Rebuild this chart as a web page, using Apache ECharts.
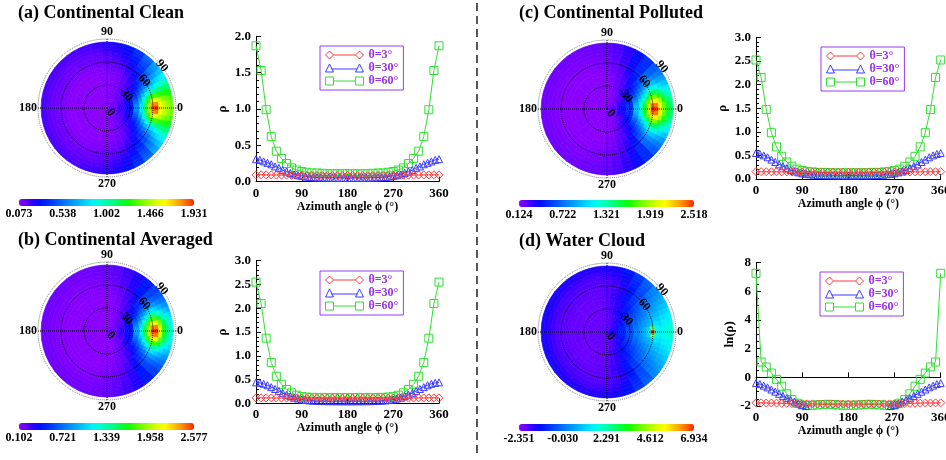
<!DOCTYPE html>
<html>
<head>
<meta charset="utf-8">
<script src="https://cdn.jsdelivr.net/npm/echarts@6/dist/echarts.min.js"></script>
<style>
html, body {margin: 0; padding: 0; background: #fff;}
#main {width: 946px; height: 460px;}
</style>
</head>
<body>
<div id="main"></div>
<script>
// azimuth samples of the three curves
var phi10 = [0,10,20,30,40,50,60,70,80,90,100,110,120,130,140,150,160,170,180,190,200,210,220,230,240,250,260,270,280,290,300,310,320,330,340,350,360];
var phi75 = [0,7.5,15,22.5,30,37.5,45,52.5,60,67.5,75,82.5,90,97.5,105,112.5,120,127.5,135,142.5,150,157.5,165,172.5,180,187.5,195,202.5,210,217.5,225,232.5,240,247.5,255,262.5,270,277.5,285,292.5,300,307.5,315,322.5,330,337.5,345,352.5,360];
var seriesNames = ['θ=3°', 'θ=30°', 'θ=60°'];

// (a) continental clean
var cleanT3 = [0.095,0.095,0.094,0.093,0.092,0.091,0.090,0.089,0.088,0.087,0.086,0.086,0.085,0.085,0.084,0.084,0.084,0.084,0.084,0.084,0.084,0.084,0.084,0.085,0.085,0.086,0.086,0.087,0.088,0.089,0.090,0.091,0.092,0.093,0.094,0.095,0.095];
var cleanT30 = [0.31,0.30,0.28,0.26,0.24,0.21,0.19,0.16,0.14,0.12,0.10,0.09,0.08,0.07,0.065,0.06,0.058,0.056,0.055,0.054,0.053,0.052,0.052,0.051,0.051,0.051,0.052,0.052,0.053,0.054,0.055,0.056,0.058,0.06,0.065,0.07,0.08,0.09,0.10,0.12,0.14,0.16,0.19,0.21,0.24,0.26,0.28,0.30,0.31];
var cleanT60 = [1.87,1.53,0.99,0.62,0.42,0.32,0.25,0.19,0.16,0.14,0.13,0.12,0.12,0.115,0.11,0.11,0.11,0.11,0.11,0.11,0.11,0.11,0.11,0.115,0.12,0.12,0.13,0.14,0.16,0.19,0.25,0.32,0.42,0.62,0.99,1.53,1.87];
// (b) continental averaged
var avgT3 = [0.115,0.115,0.114,0.113,0.112,0.111,0.110,0.109,0.108,0.107,0.106,0.106,0.105,0.105,0.105,0.105,0.105,0.105,0.105,0.105,0.105,0.105,0.105,0.105,0.105,0.106,0.106,0.107,0.108,0.109,0.110,0.111,0.112,0.113,0.114,0.115,0.115];
var avgT30 = [0.44,0.43,0.41,0.38,0.34,0.30,0.26,0.22,0.18,0.15,0.12,0.10,0.08,0.07,0.06,0.055,0.05,0.048,0.046,0.045,0.044,0.043,0.043,0.042,0.042,0.042,0.043,0.043,0.044,0.045,0.046,0.048,0.05,0.055,0.06,0.07,0.08,0.10,0.12,0.15,0.18,0.22,0.26,0.30,0.34,0.38,0.41,0.43,0.44];
var avgT60 = [2.55,2.10,1.37,0.86,0.57,0.40,0.29,0.22,0.17,0.145,0.13,0.125,0.12,0.12,0.12,0.12,0.12,0.12,0.12,0.12,0.12,0.12,0.12,0.12,0.12,0.125,0.13,0.145,0.17,0.22,0.29,0.40,0.57,0.86,1.37,2.10,2.55];
// (c) continental polluted
var pollT3 = [0.155,0.155,0.154,0.153,0.152,0.151,0.150,0.149,0.148,0.147,0.146,0.146,0.145,0.145,0.145,0.145,0.145,0.145,0.145,0.145,0.145,0.145,0.145,0.145,0.145,0.146,0.146,0.147,0.148,0.149,0.150,0.151,0.152,0.153,0.154,0.155,0.155];
var pollT30 = [0.55,0.53,0.50,0.46,0.41,0.36,0.31,0.27,0.23,0.19,0.16,0.14,0.12,0.11,0.10,0.09,0.085,0.082,0.08,0.078,0.077,0.076,0.075,0.075,0.075,0.075,0.075,0.076,0.077,0.078,0.08,0.082,0.085,0.09,0.10,0.11,0.12,0.14,0.16,0.19,0.23,0.27,0.31,0.36,0.41,0.46,0.50,0.53,0.55];
var pollT60 = [2.52,2.15,1.47,0.98,0.68,0.48,0.36,0.27,0.21,0.18,0.16,0.15,0.14,0.14,0.135,0.13,0.13,0.13,0.13,0.13,0.13,0.13,0.135,0.14,0.14,0.15,0.16,0.18,0.21,0.27,0.36,0.48,0.68,0.98,1.47,2.15,2.52];
// (d) water cloud, ln(rho)
var waterT3 = [-1.78,-1.78,-1.79,-1.79,-1.80,-1.81,-1.82,-1.83,-1.84,-1.84,-1.85,-1.85,-1.86,-1.86,-1.86,-1.86,-1.86,-1.86,-1.86,-1.86,-1.86,-1.86,-1.86,-1.86,-1.86,-1.85,-1.85,-1.84,-1.84,-1.83,-1.82,-1.81,-1.80,-1.79,-1.79,-1.78,-1.78];
var waterT30 = [-0.40,-0.47,-0.58,-0.70,-0.85,-1.00,-1.15,-1.30,-1.45,-1.58,-1.70,-1.82,-1.92,-2.00,-2.05,-2.07,-2.08,-2.08,-2.08,-2.08,-2.08,-2.08,-2.08,-2.08,-2.08,-2.08,-2.08,-2.08,-2.08,-2.08,-2.08,-2.08,-2.08,-2.07,-2.05,-2.00,-1.92,-1.82,-1.70,-1.58,-1.45,-1.30,-1.15,-1.00,-0.85,-0.70,-0.58,-0.47,-0.40];
var waterT60 = [7.26,1.07,0.72,0.30,-0.14,-0.62,-1.15,-1.55,-1.80,-1.93,-1.97,-1.95,-1.92,-1.90,-1.88,-1.90,-1.93,-1.95,-1.95,-1.95,-1.93,-1.90,-1.88,-1.90,-1.92,-1.95,-1.97,-1.93,-1.80,-1.55,-1.15,-0.62,-0.14,0.30,0.72,1.07,7.26];

// polar maps: zenith rings (edges) x azimuth columns 0..180; the maps are mirror symmetric about the 0-180 line
var ringEdges = [0,5,15,25,35,42.5,47.5,52.5,57.5,62.5,67.5,72.5,77.5,82.5,86];
var discPhi = [0,5,10,15,20,25,30,35,40,50,60,70,80,90,100,110,120,135,150,165,180];
var cleanDisc = [
  [0.09,0.09,0.09,0.09,0.09,0.09,0.09,0.09,0.09,0.09,0.09,0.09,0.085,0.085,0.085,0.085,0.085,0.08,0.08,0.08,0.08],
  [0.13,0.13,0.13,0.13,0.12,0.12,0.12,0.12,0.11,0.10,0.10,0.09,0.09,0.08,0.08,0.08,0.08,0.075,0.075,0.075,0.075],
  [0.21,0.21,0.20,0.20,0.19,0.18,0.17,0.16,0.15,0.13,0.11,0.10,0.09,0.08,0.075,0.075,0.075,0.075,0.075,0.075,0.075],
  [0.31,0.31,0.29,0.28,0.26,0.25,0.23,0.21,0.19,0.16,0.13,0.10,0.08,0.07,0.065,0.06,0.06,0.06,0.06,0.06,0.06],
  [0.62,0.6,0.55,0.49,0.42,0.37,0.32,0.28,0.24,0.18,0.14,0.11,0.09,0.08,0.075,0.07,0.07,0.07,0.07,0.07,0.07],
  [0.85,0.82,0.75,0.66,0.56,0.47,0.39,0.33,0.28,0.21,0.16,0.12,0.10,0.09,0.08,0.075,0.075,0.075,0.075,0.075,0.075],
  [1.15,1.1,1.0,0.86,0.72,0.59,0.48,0.40,0.33,0.24,0.18,0.14,0.12,0.10,0.09,0.085,0.08,0.08,0.08,0.08,0.08],
  [1.5,1.43,1.28,1.08,0.88,0.71,0.56,0.46,0.38,0.28,0.21,0.16,0.13,0.12,0.10,0.095,0.09,0.09,0.09,0.09,0.09],
  [1.87,1.77,1.53,1.26,0.99,0.79,0.62,0.51,0.42,0.32,0.25,0.19,0.16,0.14,0.13,0.12,0.12,0.11,0.11,0.11,0.11],
  [1.93,1.82,1.58,1.3,1.03,0.82,0.66,0.54,0.45,0.35,0.27,0.21,0.17,0.15,0.14,0.13,0.13,0.12,0.12,0.12,0.12],
  [1.65,1.6,1.47,1.28,1.08,0.9,0.75,0.63,0.53,0.4,0.31,0.24,0.2,0.17,0.15,0.14,0.14,0.13,0.13,0.13,0.13],
  [1.52,1.49,1.4,1.25,1.09,0.94,0.8,0.68,0.58,0.44,0.34,0.27,0.22,0.19,0.17,0.16,0.15,0.15,0.15,0.15,0.15],
  [1.44,1.42,1.35,1.23,1.1,0.97,0.84,0.73,0.63,0.48,0.37,0.29,0.24,0.21,0.19,0.18,0.17,0.17,0.17,0.17,0.17],
  [1.38,1.36,1.3,1.2,1.08,0.97,0.86,0.76,0.67,0.52,0.4,0.31,0.26,0.23,0.21,0.19,0.18,0.18,0.18,0.18,0.18]
];
var avgDisc = [
  [0.12,0.12,0.12,0.12,0.12,0.12,0.12,0.12,0.115,0.115,0.11,0.11,0.11,0.11,0.105,0.105,0.105,0.105,0.105,0.105,0.105],
  [0.17,0.17,0.17,0.16,0.16,0.16,0.15,0.15,0.14,0.13,0.12,0.11,0.10,0.10,0.095,0.09,0.09,0.09,0.09,0.09,0.09],
  [0.29,0.29,0.28,0.27,0.26,0.25,0.23,0.22,0.20,0.17,0.14,0.12,0.10,0.09,0.085,0.08,0.08,0.08,0.08,0.08,0.08],
  [0.44,0.44,0.42,0.41,0.39,0.37,0.34,0.31,0.28,0.22,0.18,0.14,0.105,0.08,0.065,0.056,0.05,0.046,0.044,0.042,0.042],
  [0.9,0.87,0.8,0.71,0.62,0.54,0.46,0.39,0.34,0.26,0.2,0.15,0.12,0.1,0.085,0.08,0.075,0.075,0.075,0.075,0.075],
  [1.2,1.16,1.05,0.91,0.77,0.65,0.54,0.46,0.39,0.29,0.22,0.17,0.13,0.11,0.095,0.09,0.085,0.085,0.085,0.085,0.085],
  [1.6,1.53,1.38,1.17,0.98,0.8,0.66,0.55,0.47,0.34,0.25,0.19,0.15,0.12,0.11,0.10,0.10,0.10,0.10,0.10,0.10],
  [2.05,1.95,1.73,1.43,1.15,0.92,0.74,0.6,0.5,0.36,0.27,0.2,0.16,0.13,0.12,0.11,0.11,0.11,0.11,0.11,0.11],
  [2.55,2.4,2.1,1.72,1.37,1.08,0.86,0.69,0.57,0.4,0.29,0.22,0.17,0.145,0.13,0.125,0.12,0.12,0.12,0.12,0.12],
  [2.58,2.43,2.12,1.74,1.38,1.1,0.88,0.71,0.59,0.42,0.31,0.24,0.19,0.16,0.14,0.135,0.13,0.13,0.13,0.13,0.13],
  [2.1,2.0,1.8,1.52,1.25,1.02,0.84,0.69,0.58,0.43,0.32,0.25,0.2,0.17,0.15,0.14,0.14,0.14,0.14,0.14,0.14],
  [1.65,1.6,1.48,1.3,1.1,0.93,0.78,0.66,0.56,0.43,0.33,0.26,0.21,0.18,0.16,0.15,0.15,0.15,0.15,0.15,0.15],
  [1.4,1.37,1.28,1.15,1.0,0.86,0.74,0.63,0.55,0.43,0.34,0.27,0.22,0.19,0.17,0.16,0.16,0.16,0.16,0.16,0.16],
  [1.25,1.23,1.16,1.06,0.94,0.83,0.72,0.63,0.55,0.44,0.35,0.28,0.23,0.2,0.18,0.17,0.17,0.17,0.17,0.17,0.17]
];
var pollDisc = [
  [0.155,0.155,0.155,0.155,0.155,0.155,0.155,0.15,0.15,0.15,0.15,0.15,0.15,0.15,0.145,0.145,0.145,0.145,0.145,0.145,0.145],
  [0.22,0.22,0.22,0.21,0.21,0.21,0.2,0.2,0.19,0.17,0.16,0.15,0.14,0.13,0.125,0.12,0.12,0.12,0.12,0.12,0.12],
  [0.37,0.37,0.36,0.35,0.33,0.31,0.29,0.27,0.25,0.21,0.18,0.15,0.13,0.12,0.11,0.105,0.1,0.1,0.1,0.1,0.1],
  [0.55,0.54,0.52,0.5,0.47,0.44,0.41,0.38,0.345,0.285,0.23,0.18,0.145,0.12,0.105,0.093,0.085,0.079,0.077,0.075,0.075],
  [1.0,0.97,0.9,0.82,0.72,0.63,0.54,0.47,0.41,0.32,0.25,0.2,0.16,0.14,0.12,0.11,0.105,0.1,0.1,0.1,0.1],
  [1.3,1.26,1.16,1.03,0.89,0.77,0.65,0.56,0.48,0.36,0.28,0.22,0.17,0.15,0.13,0.12,0.11,0.11,0.11,0.11,0.11],
  [1.65,1.59,1.45,1.26,1.05,0.89,0.75,0.63,0.54,0.4,0.31,0.24,0.19,0.16,0.14,0.13,0.12,0.12,0.12,0.12,0.12],
  [2.05,1.97,1.77,1.51,1.25,1.04,0.86,0.72,0.61,0.44,0.33,0.25,0.2,0.17,0.15,0.14,0.13,0.13,0.13,0.13,0.13],
  [2.52,2.4,2.15,1.8,1.47,1.2,0.98,0.81,0.68,0.48,0.36,0.27,0.21,0.18,0.16,0.15,0.14,0.14,0.13,0.13,0.13],
  [2.5,2.39,2.15,1.82,1.5,1.23,1.01,0.84,0.7,0.5,0.38,0.29,0.23,0.19,0.17,0.16,0.15,0.15,0.14,0.14,0.14],
  [2.15,2.07,1.9,1.65,1.39,1.16,0.97,0.82,0.69,0.51,0.39,0.3,0.24,0.2,0.18,0.17,0.16,0.16,0.16,0.16,0.16],
  [1.8,1.75,1.63,1.45,1.25,1.07,0.91,0.78,0.67,0.51,0.4,0.31,0.25,0.21,0.19,0.18,0.17,0.17,0.17,0.17,0.17],
  [1.58,1.54,1.45,1.31,1.15,1.0,0.87,0.75,0.65,0.51,0.4,0.32,0.26,0.22,0.2,0.19,0.18,0.18,0.18,0.18,0.18],
  [1.45,1.42,1.35,1.24,1.1,0.97,0.85,0.74,0.65,0.51,0.41,0.33,0.27,0.23,0.21,0.2,0.19,0.19,0.19,0.19,0.19]
];
var waterDisc = [
  [-1.78,-1.78,-1.78,-1.79,-1.79,-1.79,-1.79,-1.8,-1.8,-1.81,-1.82,-1.83,-1.84,-1.84,-1.85,-1.85,-1.86,-1.86,-1.86,-1.86,-1.86],
  [-1.5,-1.5,-1.52,-1.53,-1.55,-1.57,-1.6,-1.62,-1.65,-1.72,-1.78,-1.84,-1.9,-1.95,-1.98,-2.0,-2.0,-2.0,-2.0,-2.0,-2.0],
  [-0.95,-0.97,-1.0,-1.05,-1.1,-1.17,-1.25,-1.32,-1.4,-1.55,-1.68,-1.8,-1.9,-1.97,-2.02,-2.05,-2.05,-2.05,-2.05,-2.05,-2.05],
  [-0.40,-0.44,-0.49,-0.56,-0.64,-0.74,-0.85,-0.95,-1.05,-1.25,-1.45,-1.62,-1.78,-1.92,-2.02,-2.06,-2.08,-2.08,-2.08,-2.08,-2.08],
  [0.15,0.12,0.05,-0.07,-0.2,-0.35,-0.5,-0.65,-0.8,-1.1,-1.38,-1.6,-1.78,-1.92,-2.0,-2.05,-2.06,-2.06,-2.06,-2.06,-2.06],
  [0.5,0.45,0.35,0.2,0.05,-0.12,-0.3,-0.47,-0.63,-0.95,-1.27,-1.53,-1.74,-1.9,-1.99,-2.03,-2.04,-2.04,-2.03,-2.03,-2.03],
  [0.9,0.8,0.6,0.45,0.25,0.08,-0.1,-0.28,-0.45,-0.8,-1.15,-1.45,-1.7,-1.88,-1.98,-2.02,-2.02,-2.01,-2.0,-2.0,-2.0],
  [1.5,1.2,0.85,0.65,0.45,0.25,0.1,-0.08,-0.3,-0.7,-1.15,-1.5,-1.76,-1.9,-1.97,-1.98,-1.96,-1.94,-1.93,-1.93,-1.93],
  [7.26,4.5,1.07,0.9,0.72,0.52,0.30,0.08,-0.14,-0.62,-1.15,-1.55,-1.80,-1.93,-1.97,-1.95,-1.92,-1.89,-1.90,-1.94,-1.95],
  [1.8,1.7,1.4,1.1,0.8,0.55,0.3,0.08,-0.14,-0.6,-1.1,-1.5,-1.75,-1.88,-1.92,-1.9,-1.87,-1.85,-1.85,-1.88,-1.9],
  [1.6,1.55,1.3,1.1,0.9,0.68,0.45,0.22,0.0,-0.5,-0.98,-1.38,-1.65,-1.8,-1.85,-1.85,-1.82,-1.79,-1.78,-1.77,-1.77],
  [1.75,1.7,1.5,1.3,1.08,0.85,0.6,0.35,0.1,-0.4,-0.9,-1.3,-1.56,-1.7,-1.75,-1.75,-1.72,-1.7,-1.67,-1.65,-1.65],
  [1.9,1.85,1.6,1.4,1.2,0.95,0.7,0.45,0.2,-0.3,-0.8,-1.2,-1.45,-1.55,-1.6,-1.6,-1.58,-1.55,-1.52,-1.5,-1.5],
  [2.0,1.95,1.75,1.55,1.3,1.05,0.8,0.55,0.3,-0.2,-0.7,-1.1,-1.35,-1.45,-1.5,-1.5,-1.48,-1.45,-1.42,-1.4,-1.4]
];

// colour bar labels (first and last are the colour range)
var cleanBar = ['0.073','0.538','1.002','1.466','1.931'];
var avgBar = ['0.102','0.721','1.339','1.958','2.577'];
var pollBar = ['0.124','0.722','1.321','1.919','2.518'];
var waterBar = ['-2.351','-0.030','2.291','4.612','6.934'];
var angleTicks = [0, 90, 180, 270];
var zenithTicks = [0, 30, 60, 90];

var FONT = "'Liberation Serif', 'Times New Roman', serif";
var rainbow = ['#8a00ff','#6000ff','#2800ff','#0010ff','#0030ff','#0050ff','#0070ff','#0090ff','#00b0ff','#00d0ff','#00f0ff','#00ffd8','#00ffa8','#00ff78','#00ff40','#10ff00','#48ff00','#80ff00','#b0ff00','#e0ff00','#ffff00','#ffd000','#ffa000','#ff6800','#ff2000'];
var lineColors = ['#ff3b3b', '#3b3bff', '#2fe02f'];
var symbols = ['diamond', 'triangle', 'rect'];
var symbolSizes = [8, 7, 8];
var legendIcons = [
  'path://M0,4L4,0L8,4L4,8ZM8,4L30,4M30,4L34,0L38,4L34,8Z',
  'path://M0,8L4,0L8,8ZM6,5L32,5M30,8L34,0L38,8Z',
  'path://M0,0L8,0L8,8L0,8ZM8,4L30,4M30,0L38,0L38,8L30,8Z'
];

var panels = [
  {title: '(a) Continental Clean', tpos: [18, 4], center: [107, 108],
   grid: {left: 256, top: 36.3, width: 183, height: 145.4}, bar: {left: 19, top: 199},
   legend: [320, 46], y: [0, 2, 0.5, 5], yName: 'ρ', nameGap: 27, dec: 1,
   disc: cleanDisc, ticks: cleanBar, lines: [cleanT3, cleanT30, cleanT60]},
  {title: '(b) Continental Averaged', tpos: [18, 231], center: [107, 331],
   grid: {left: 256, top: 260.7, width: 183, height: 142.6}, bar: {left: 19, top: 423},
   legend: [320, 271], y: [0, 3, 0.5, 5], yName: 'ρ', nameGap: 27, dec: 1,
   disc: avgDisc, ticks: avgBar, lines: [avgT3, avgT30, avgT60]},
  {title: '(c) Continental Polluted', tpos: [519, 4], center: [607, 109],
   grid: {left: 756, top: 37.3, width: 184.7, height: 141.7}, bar: {left: 519, top: 200},
   legend: [821, 47], y: [0, 3, 0.5, 5], yName: 'ρ', nameGap: 27, dec: 1,
   disc: pollDisc, ticks: pollBar, lines: [pollT3, pollT30, pollT60]},
  {title: '(d) Water Cloud', tpos: [519, 232], center: [607, 332],
   grid: {left: 756, top: 262.7, width: 184.7, height: 143.3}, bar: {left: 519, top: 424},
   legend: [820, 272], y: [-2, 8, 2, 4], yName: 'ln(ρ)', nameGap: 18, dec: 0,
   disc: waterDisc, ticks: waterBar, lines: [waterT3, waterT30, waterT60]}
];

// one data item per cell: [ring inner, ring outer, azimuth from, azimuth to, value]
function discData(rows) {
  var out = [];
  var n = discPhi.length;
  rows.forEach(function (row, i) {
    row.forEach(function (v, j) {
      var lo = j === 0 ? -discPhi[1] / 2 : (discPhi[j - 1] + discPhi[j]) / 2;
      var hi = j === n - 1 ? discPhi[j] + (discPhi[j] - discPhi[j - 1]) / 2 : (discPhi[j] + discPhi[j + 1]) / 2;
      out.push([ringEdges[i], ringEdges[i + 1], lo, hi, v]);
    });
  });
  return out;
}

function renderCell(params, api) {
  var cs = params.coordSys;
  var rIn = api.value(0), rOut = api.value(1), lo = api.value(2), hi = api.value(3);
  var color = api.visual('color');
  var spans = (lo < 0 || hi > 180) ? [[lo, hi]] : [[lo, hi], [-hi, -lo]];
  var children = spans.map(function (s) {
    var p0 = api.coord([rOut, s[0]]), p1 = api.coord([rOut, s[1]]), pi = api.coord([rIn, s[0]]);
    var r0 = Math.sqrt(Math.pow(pi[0] - cs.cx, 2) + Math.pow(pi[1] - cs.cy, 2));
    var r1 = Math.sqrt(Math.pow(p0[0] - cs.cx, 2) + Math.pow(p0[1] - cs.cy, 2));
    var sa = Math.atan2(p1[1] - cs.cy, p1[0] - cs.cx);
    var ea = Math.atan2(p0[1] - cs.cy, p0[0] - cs.cx);
    if (ea < sa) ea += Math.PI * 2;
    return {
      type: 'sector',
      shape: {cx: cs.cx, cy: cs.cy, r0: r0, r: r1, startAngle: sa, endAngle: ea, clockwise: true},
      style: {fill: color, stroke: color, lineWidth: 0.7}
    };
  });
  return {type: 'group', children: children};
}

var boldText = {fontFamily: FONT, fontWeight: 'bold', color: '#000'};
var option = {
  animation: false,
  backgroundColor: '#fff',
  title: [], grid: [], xAxis: [], yAxis: [], polar: [], angleAxis: [], radiusAxis: [],
  visualMap: [], legend: [], series: [],
  graphic: [{
    type: 'line', shape: {x1: 477, y1: 3, x2: 477, y2: 457},
    style: {stroke: '#222', lineWidth: 1.5, lineDash: [8, 5]}
  }]
};

panels.forEach(function (p, k) {
  option.title.push({text: p.title, left: p.tpos[0], top: p.tpos[1], padding: 0,
    textStyle: Object.assign({fontSize: 18}, boldText)});

  // line chart grid k
  option.grid[k] = Object.assign({outerBoundsMode: 'none', containLabel: false}, p.grid);
  option.xAxis[k] = {
    gridIndex: k, type: 'value', min: 0, max: 360, interval: 90,
    name: 'Azimuth angle ϕ (°)', nameLocation: 'middle', nameGap: 17,
    nameTextStyle: Object.assign({fontSize: 12}, boldText),
    axisLine: {show: true, lineStyle: {color: '#000', width: 1}},
    axisTick: {show: true, inside: true, length: 5, lineStyle: {color: '#000'}},
    axisLabel: Object.assign({fontSize: 13, margin: 5}, boldText),
    splitLine: {show: false}
  };
  option.yAxis[k] = {
    gridIndex: k, type: 'value', min: p.y[0], max: p.y[1], interval: p.y[2],
    name: p.yName, nameLocation: 'middle', nameGap: p.nameGap,
    nameTextStyle: Object.assign({fontSize: 13}, boldText),
    axisLine: {show: true, lineStyle: {color: '#000', width: 1}},
    axisTick: {show: true, inside: true, length: 5, lineStyle: {color: '#000'}},
    minorTick: {show: true, splitNumber: p.y[3], length: 3, lineStyle: {color: '#000'}},
    axisLabel: Object.assign({fontSize: 13, margin: 5, formatter: function (v) { return v.toFixed(p.dec); }}, boldText),
    splitLine: {show: false}
  };

  // colour bar tick grid k+4
  option.grid[k + 4] = {outerBoundsMode: 'none', containLabel: false, left: p.bar.left, top: p.bar.top, width: 175, height: 7};
  option.xAxis[k + 4] = {
    gridIndex: k + 4, type: 'category', data: p.ticks, boundaryGap: false,
    axisLine: {show: false}, axisTick: {show: false},
    axisLabel: Object.assign({fontSize: 12, margin: 2, interval: 0}, boldText)
  };
  option.yAxis[k + 4] = {gridIndex: k + 4, type: 'value', show: false};

  // polar map k and its zenith label overlay k+4
  option.polar[k] = {center: p.center, radius: [0, 69]};
  option.polar[k + 4] = {center: p.center, radius: [0, 69]};
  option.angleAxis[k] = {
    polarIndex: k, type: 'value', min: 0, max: 360, interval: 90, startAngle: 0, clockwise: false, z: 10,
    axisLine: {show: true, lineStyle: {color: '#777', type: 'dotted', width: 1}},
    axisTick: {show: false},
    axisLabel: Object.assign({fontSize: 12, margin: 1, formatter: function (v) {
      return angleTicks.indexOf(v) >= 0 ? String(v) : '';
    }}, boldText),
    splitLine: {show: true, lineStyle: {color: '#000', type: 'dotted', width: 1}}
  };
  option.angleAxis[k + 4] = {polarIndex: k + 4, type: 'value', min: 0, max: 360, startAngle: 40, clockwise: false, show: false};
  option.radiusAxis[k] = {
    polarIndex: k, type: 'value', min: 0, max: 90, interval: 30, z: 10,
    axisLine: {show: false}, axisTick: {show: false}, axisLabel: {show: false},
    splitLine: {show: true, lineStyle: {color: ['#000', '#000', '#000', 'rgba(0,0,0,0)'], type: 'dotted', width: 1}}
  };
  option.radiusAxis[k + 4] = {
    polarIndex: k + 4, type: 'value', min: 0, max: 90, interval: 30, z: 11,
    axisLine: {show: false}, axisTick: {show: false}, splitLine: {show: false},
    axisLabel: Object.assign({fontSize: 12, rotate: -50, margin: -9, formatter: function (v) {
      return zenithTicks.indexOf(v) >= 0 ? String(v) : '';
    }}, boldText)
  };

  option.series.push({
    type: 'custom', coordinateSystem: 'polar', polarIndex: k, z: 1,
    encode: {radius: 0, angle: 2}, renderItem: renderCell, data: discData(p.disc)
  });
  option.visualMap.push({
    type: 'continuous', seriesIndex: k, dimension: 4,
    min: parseFloat(p.ticks[0]), max: parseFloat(p.ticks[4]),
    orient: 'horizontal', left: p.bar.left, top: p.bar.top, padding: 0,
    itemWidth: 7, itemHeight: 175, calculable: false, hoverLink: false, text: null,
    inRange: {color: rainbow}
  });

  option.legend.push({
    orient: 'vertical', left: p.legend[0], top: p.legend[1], padding: [3, 5, 3, 5],
    itemGap: 1, itemWidth: 38, itemHeight: 8,
    borderColor: '#9a3cf0', borderWidth: 1, backgroundColor: '#fff',
    textStyle: {fontFamily: FONT, fontWeight: 'bold', fontSize: 12, color: '#9a30ee', lineHeight: 12},
    selectedMode: false,
    data: seriesNames.map(function (n, i) {
      return {name: n, icon: legendIcons[i],
        itemStyle: {color: 'rgba(0,0,0,0)', borderColor: lineColors[i], borderWidth: 1}};
    })
  });
});

panels.forEach(function (p, k) {
  p.lines.forEach(function (vals, i) {
    var xs = i === 1 ? phi75 : phi10;
    option.series.push({
      name: seriesNames[i], type: 'line', xAxisIndex: k, yAxisIndex: k,
      data: vals.map(function (v, j) { return [xs[j], v]; }),
      symbol: symbols[i], symbolSize: symbolSizes[i], showAllSymbol: true,
      itemStyle: {color: 'rgba(0,0,0,0)', borderColor: lineColors[i], borderWidth: 1},
      lineStyle: {color: lineColors[i], width: 1},
      z: 3 - i
    });
  });
});

var chart = echarts.init(document.getElementById('main'));
chart.setOption(option);
window.onresize = chart.resize;
</script>
</body>
</html>
